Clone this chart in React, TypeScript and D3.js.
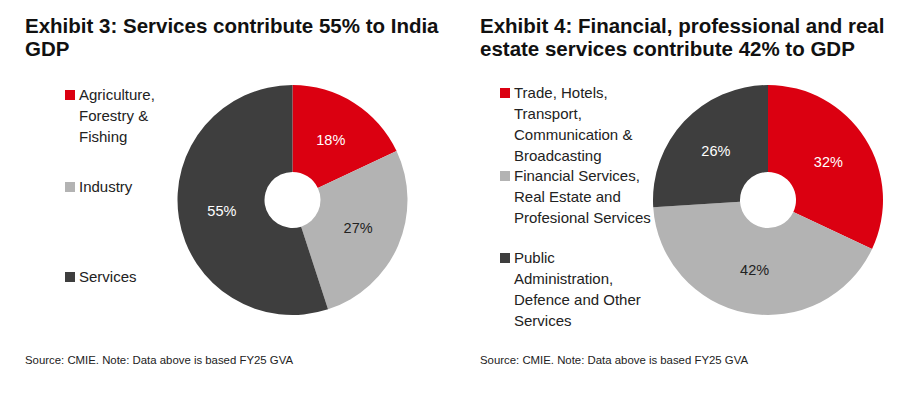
import React from "react";
import * as d3 from "d3";

// Exhibit 3 data
const sectors = ["Agriculture, Forestry & Fishing", "Industry", "Services"];
const sectorShare = [18, 27, 55];
const sectorLegendLines = [["Agriculture,", "Forestry &", "Fishing"], ["Industry"], ["Services"]];

// Exhibit 4 data
const serviceTypes = [
  "Trade, Hotels, Transport, Communication & Broadcasting",
  "Financial Services, Real Estate and Profesional Services",
  "Public Administration, Defence and Other Services",
];
const serviceShare = [32, 42, 26];
const serviceLegendLines = [
  ["Trade, Hotels,", "Transport,", "Communication &", "Broadcasting"],
  ["Financial Services,", "Real Estate and", "Profesional Services"],
  ["Public", "Administration,", "Defence and Other", "Services"],
];

const titles = [
  ["Exhibit 3: Services contribute 55% to India", "GDP"],
  ["Exhibit 4: Financial, professional and real", "estate services contribute 42% to GDP"],
];
const sourceNote = "Source: CMIE. Note: Data above is based FY25 GVA";

const COLORS = ["#DB0011", "#B3B3B3", "#3E3E3E"];
const LABEL_COLORS = ["#FFFFFF", "#222222", "#FFFFFF"];
const FONT = "'Liberation Sans', Arial, sans-serif";
const LINE_H = 20.8;

interface PanelProps {
  x0: number;
  cx: number;
  legendX: number;
  legendTops: number[];
  names: string[];
  values: number[];
  legendLines: string[][];
  title: string[];
}

const Panel = ({ x0, cx, legendX, legendTops, names, values, legendLines, title }: PanelProps) => {
  const cy = 200;
  const outer = 115;
  const inner = 28;

  const pie = d3.pie<number>().sort(null).value((d) => d);
  const arcs = pie(values);
  const arc = d3.arc<d3.PieArcDatum<number>>().innerRadius(inner).outerRadius(outer);

  return (
    <g>
      {title.map((t, i) => (
        <text key={i} x={x0} y={33 + i * 23} fontFamily={FONT} fontWeight="bold" fontSize={20.5} fill="#111">
          {t}
        </text>
      ))}

      <g transform={`translate(${cx},${cy})`}>
        {arcs.map((a, i) => (
          <path key={names[i]} d={arc(a) || ""} fill={COLORS[i]} />
        ))}
        {arcs.map((a, i) => {
          const [lx, ly] = arc.centroid(a);
          return (
            <text
              key={"l" + i}
              x={lx}
              y={ly}
              dy="0.35em"
              textAnchor="middle"
              fontFamily={FONT}
              fontSize={14.5}
              fill={LABEL_COLORS[i]}
            >
              {values[i]}%
            </text>
          );
        })}
      </g>

      {legendLines.map((lines, i) => (
        <g key={"lg" + i}>
          <rect x={legendX} y={legendTops[i] - 5} width={10} height={10} fill={COLORS[i]} />
          {lines.map((ln, j) => (
            <text
              key={j}
              x={legendX + 14}
              y={legendTops[i] + j * LINE_H}
              dy="0.35em"
              fontFamily={FONT}
              fontSize={15}
              fill="#222"
            >
              {ln}
            </text>
          ))}
        </g>
      ))}

      <text x={x0} y={364} fontFamily={FONT} fontSize={11} fill="#222" textLength={268} lengthAdjust="spacingAndGlyphs">
        {sourceNote}
      </text>
    </g>
  );
};

export default function App() {
  return (
    <svg width={915} height={398} style={{ position: "absolute", left: 0, top: 0, background: "#fff" }}>
      <rect width={915} height={398} fill="#fff" />
      <Panel
        x0={25}
        cx={292.5}
        legendX={65}
        legendTops={[95, 187, 277]}
        names={sectors}
        values={sectorShare}
        legendLines={sectorLegendLines}
        title={titles[0]}
      />
      <Panel
        x0={480}
        cx={768}
        legendX={500}
        legendTops={[93, 176, 258]}
        names={serviceTypes}
        values={serviceShare}
        legendLines={serviceLegendLines}
        title={titles[1]}
      />
    </svg>
  );
}
